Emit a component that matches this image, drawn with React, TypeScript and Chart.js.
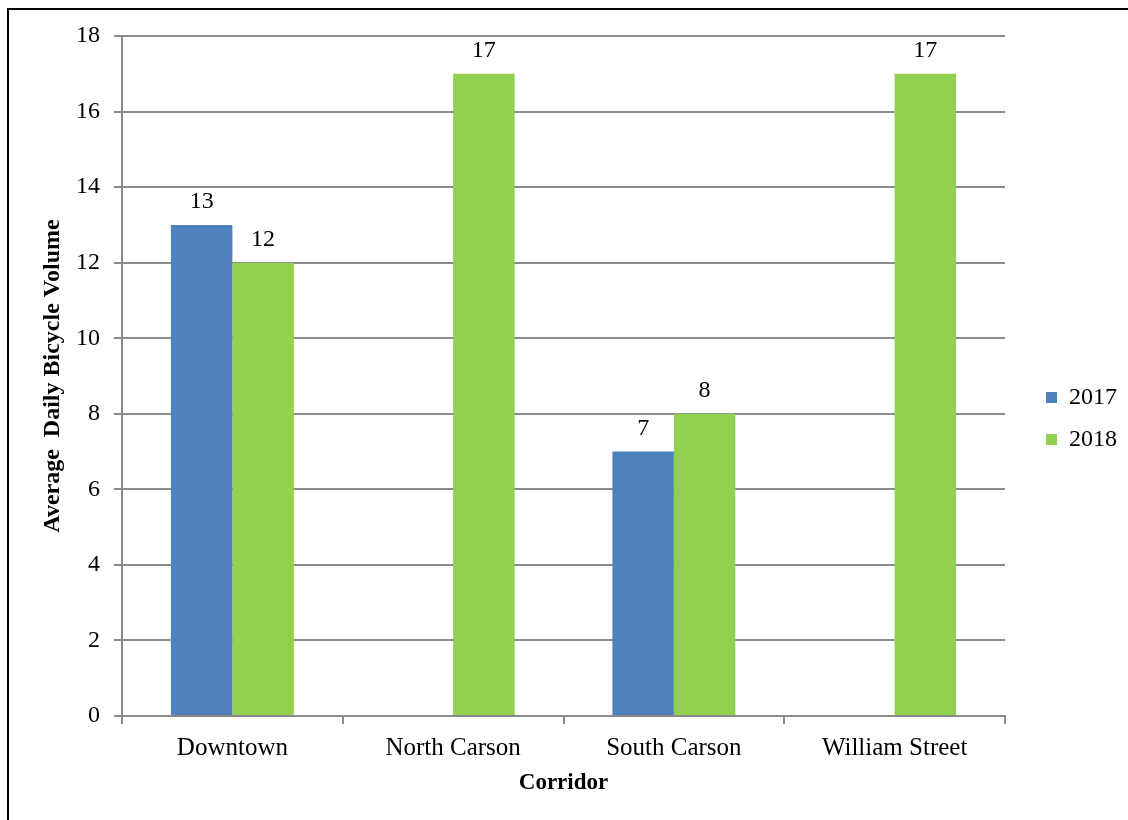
import React, { useEffect, useRef } from "react";
import { Chart, registerables } from "chart.js";

Chart.register(...registerables);

// ---- Data ----
const categories = ["Downtown", "North Carson", "South Carson", "William Street"];
const seriesNames = ["2017", "2018"];
const values2017 = [13, null, 7, null];
const values2018 = [12, 17, 8, 17];
const seriesColors = ["#4F81BD", "#92D050"];
const yMin = 0;
const yMax = 18;
const yStep = 2;
const xAxisTitle = "Corridor";
const yAxisTitle = "Average  Daily Bicycle Volume";

const FONT = '"Liberation Serif", "Times New Roman", serif';
const GRID = "#8a8a8a";

const valueLabels = {
  id: "valueLabels",
  afterDatasetsDraw(chart: any) {
    const ctx = chart.ctx;
    ctx.save();
    ctx.font = `24px ${FONT}`;
    ctx.fillStyle = "#000";
    ctx.textAlign = "center";
    ctx.textBaseline = "middle";
    chart.data.datasets.forEach((ds: any, i: number) => {
      const meta = chart.getDatasetMeta(i);
      meta.data.forEach((el: any, j: number) => {
        const v = ds.data[j];
        if (v === null || v === undefined) return;
        ctx.fillText(String(v), el.x, el.y - 23);
      });
    });
    ctx.restore();
  },
};

export default function App() {
  const ref = useRef<HTMLCanvasElement | null>(null);

  useEffect(() => {
    if (!ref.current) return;
    const chart = new Chart(ref.current, {
      type: "bar",
      data: {
        labels: categories,
        datasets: [
          { label: seriesNames[0], data: values2017, backgroundColor: seriesColors[0], borderWidth: 0 },
          { label: seriesNames[1], data: values2018, backgroundColor: seriesColors[1], borderWidth: 0 },
        ],
      },
      options: {
        responsive: false,
        animation: false,
        devicePixelRatio: 1,
        layout: { padding: { left: 36, top: 36, right: 1, bottom: 19 } },
        datasets: { bar: { categoryPercentage: 0.557, barPercentage: 1 } },
        plugins: {
          legend: {
            position: "right",
            labels: {
              boxWidth: 11,
              boxHeight: 11,
              padding: 18,
              color: "#000",
              font: { family: FONT, size: 24 },
            },
          },
          tooltip: { enabled: false },
        },
        scales: {
          x: {
            grid: { offset: true, drawOnChartArea: false, color: GRID, lineWidth: 2, tickLength: 8 },
            border: { color: GRID, width: 2 },
            ticks: { color: "#000", font: { family: FONT, size: 25 }, padding: 9, maxRotation: 0, autoSkip: false },
            title: {
              display: true,
              text: xAxisTitle,
              color: "#000",
              font: { family: FONT, size: 23, weight: "bold" },
              padding: { top: 0, bottom: 4 },
            },
            afterFit: (s: any) => {
              s.height = 85;
            },
          },
          y: {
            min: yMin,
            max: yMax,
            ticks: { stepSize: yStep, color: "#000", font: { family: FONT, size: 24 }, padding: 14 },
            grid: { color: GRID, lineWidth: 2, tickLength: 8 },
            border: { color: GRID, width: 2 },
            title: {
              display: true,
              text: yAxisTitle,
              color: "#000",
              font: { family: FONT, size: 24, weight: "bold" },
              padding: { top: 2, bottom: 0 },
            },
            afterFit: (s: any) => {
              s.width = 86;
            },
          },
          legendGap: {
            position: "right",
            display: true,
            grid: { display: false },
            ticks: { display: false },
            border: { display: false },
            afterFit: (s: any) => {
              s.width = 23;
            },
          },
        },
      } as any,
      plugins: [valueLabels],
    });
    return () => chart.destroy();
  }, []);

  return (
    <div
      style={{
        position: "fixed",
        left: 0,
        top: 0,
        width: 1128,
        height: 820,
        overflow: "hidden",
        background: "#fff",
      }}
    >
      <div
        style={{
          position: "absolute",
          left: 7,
          top: 8,
          width: 1300,
          height: 1000,
          borderLeft: "2px solid #000",
          borderTop: "2px solid #000",
        }}
      />
      <canvas ref={ref} width={1128} height={820} style={{ position: "absolute", left: 0, top: 0 }} />
    </div>
  );
}
